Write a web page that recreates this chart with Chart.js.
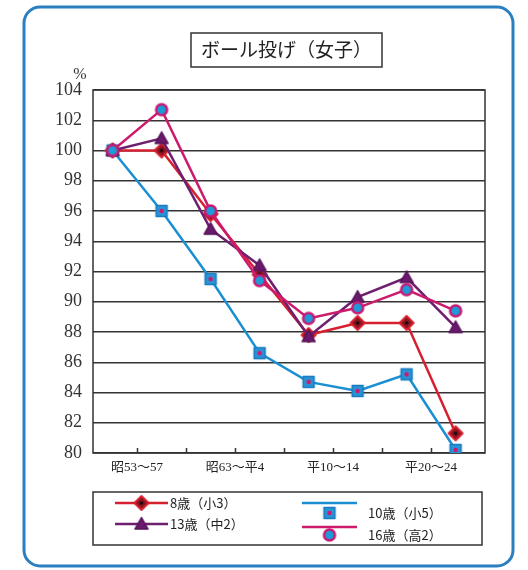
<!DOCTYPE html>
<html>
<head>
<meta charset="utf-8">
<script src="https://cdn.jsdelivr.net/npm/chart.js@4.4.1/dist/chart.umd.min.js"></script>
<style>
  html, body { margin: 0; padding: 0; background: #fff; }
  #wrap { width: 528px; height: 570px; position: relative; }
</style>
</head>
<body>
<div id="wrap"><canvas id="c" width="528" height="570"></canvas></div>
<script>
// Survey periods: eight points along the horizontal axis
const pointIndex = [0, 1, 2, 3, 4, 5, 6, 7];

// Period labels and where they sit on the axis
const periodLabels = ['昭53～57', '昭63～平4', '平10～14', '平20～24'];
const periodLabelAt = [0.5, 2.5, 4.5, 6.5];
const tickMarkAt = [0.5, 1.5, 2.5, 3.5, 4.5, 5.5, 6.5];

// Ball throw record relative to the first period (%)
const age8 = [100, 100.0, 95.8, 91.8, 87.8, 88.6, 88.6, 81.3];
const age10 = [100, 96.0, 91.5, 86.6, 84.7, 84.1, 85.2, 80.2];
const age13 = [100, 100.8, 94.8, 92.4, 87.7, 90.3, 91.6, 88.3];
const age16 = [100, 102.7, 96.0, 91.4, 88.9, 89.6, 90.8, 89.4];

const seriesNames = ['8歳（小3）', '10歳（小5）', '13歳（中2）', '16歳（高2）'];
const chartTitle = 'ボール投げ（女子）';

// Marker sprites
function makeMarker(kind) {
  const s = 18, m = s / 2;
  const c = document.createElement('canvas');
  c.width = s; c.height = s;
  const g = c.getContext('2d');
  g.lineJoin = 'round';
  if (kind === 'diamond') {
    g.beginPath();
    g.moveTo(m, m - 7); g.lineTo(m + 7, m); g.lineTo(m, m + 7); g.lineTo(m - 7, m); g.closePath();
    g.fillStyle = '#8a1522'; g.fill();
    g.strokeStyle = '#d8202e'; g.lineWidth = 2; g.stroke();
    g.beginPath(); g.arc(m, m, 1.8, 0, Math.PI * 2); g.fillStyle = '#1a0808'; g.fill();
  } else if (kind === 'square') {
    g.fillStyle = '#2a93d5'; g.fillRect(m - 5.5, m - 5.5, 11, 11);
    g.strokeStyle = '#1a7cc0'; g.lineWidth = 1.5; g.strokeRect(m - 5.5, m - 5.5, 11, 11);
    g.beginPath(); g.arc(m, m, 2.2, 0, Math.PI * 2); g.fillStyle = '#d0176e'; g.fill();
  } else if (kind === 'triangle') {
    g.beginPath();
    g.moveTo(m, m - 6.5); g.lineTo(m + 6.5, m + 5); g.lineTo(m - 6.5, m + 5); g.closePath();
    g.fillStyle = '#6a1a6c'; g.fill();
    g.strokeStyle = '#55135a'; g.lineWidth = 1.5; g.stroke();
  } else {
    g.beginPath(); g.arc(m, m, 5.5, 0, Math.PI * 2);
    g.fillStyle = '#1e9ad8'; g.fill();
    g.strokeStyle = '#c81a74'; g.lineWidth = 2.5; g.stroke();
  }
  return c;
}

const markers = {
  diamond: makeMarker('diamond'),
  square: makeMarker('square'),
  triangle: makeMarker('triangle'),
  circle: makeMarker('circle')
};

const lineColors = ['#d7202f', '#1b8fd2', '#6e1f6f', '#cc1b6c'];
const markerKinds = ['diamond', 'square', 'triangle', 'circle'];
const seriesValues = [age8, age10, age13, age16];

function toPoints(values) {
  return values.map((v, i) => ({ x: pointIndex[i], y: v }));
}

const datasets = seriesValues.map((vals, k) => ({
  label: seriesNames[k],
  data: toPoints(vals),
  borderColor: lineColors[k],
  borderWidth: 2.5,
  tension: 0,
  pointStyle: markers[markerKinds[k]],
  pointRadius: 6,
  pointHoverRadius: 6,
  order: [3, 2, 1, 0][k]
}));

// Frame, title box, inward tick marks and legend
const decorations = {
  id: 'decorations',
  beforeDatasetsDraw(chart) {
    const { ctx, chartArea: a, scales } = chart;
    ctx.save();
    ctx.strokeStyle = '#333';
    ctx.lineWidth = 1.5;
    ctx.strokeRect(a.left, a.top, a.right - a.left, a.bottom - a.top);
    tickMarkAt.forEach(v => {
      const x = Math.round(scales.x.getPixelForValue(v)) + 0.5;
      ctx.beginPath(); ctx.moveTo(x, a.bottom); ctx.lineTo(x, a.bottom - 5); ctx.stroke();
    });
    ctx.restore();
  },
  afterDraw(chart) {
    const { ctx } = chart;
    ctx.save();
    // outer rounded frame
    ctx.strokeStyle = '#2a7fc1';
    ctx.lineWidth = 3;
    ctx.beginPath();
    ctx.roundRect(24, 7, 489, 559, 16);
    ctx.stroke();

    // title box
    ctx.strokeStyle = '#333';
    ctx.lineWidth = 1.5;
    ctx.strokeRect(191, 33, 191, 34);
    ctx.fillStyle = '#222';
    ctx.font = '19px "Noto Sans CJK JP", sans-serif';
    ctx.textAlign = 'center';
    ctx.textBaseline = 'middle';
    ctx.fillText(chartTitle, 286.5, 50);

    // unit
    ctx.font = '16px "Liberation Serif", serif';
    ctx.fillStyle = '#333';
    ctx.fillText('%', 80, 75);

    // legend
    ctx.strokeStyle = '#333';
    ctx.lineWidth = 1.5;
    ctx.strokeRect(93, 492, 389, 53);
    const items = [
      { k: 0, x0: 115, x1: 168, ly: 503, my: 503, tx: 170, ty: 503 },
      { k: 2, x0: 115, x1: 168, ly: 524, my: 524, tx: 170, ty: 524 },
      { k: 1, x0: 302, x1: 357, ly: 503, my: 513, tx: 368, ty: 513 },
      { k: 3, x0: 302, x1: 357, ly: 527, my: 535, tx: 368, ty: 535 }
    ];
    ctx.font = '13px "Noto Sans CJK JP", sans-serif';
    ctx.textAlign = 'left';
    items.forEach(it => {
      ctx.strokeStyle = lineColors[it.k];
      ctx.lineWidth = 2.5;
      ctx.beginPath(); ctx.moveTo(it.x0, it.ly); ctx.lineTo(it.x1, it.ly); ctx.stroke();
      const img = markers[markerKinds[it.k]];
      ctx.drawImage(img, (it.x0 + it.x1) / 2 - img.width / 2, it.my - img.height / 2);
      ctx.fillStyle = '#222';
      ctx.fillText(seriesNames[it.k], it.tx, it.ty);
    });
    ctx.restore();
  }
};

new Chart(document.getElementById('c'), {
  type: 'line',
  data: { datasets },
  options: {
    responsive: false,
    animation: false,
    devicePixelRatio: 1,
    layout: { padding: { left: 0, right: 43, top: 90, bottom: 0 } },
    plugins: { legend: { display: false }, tooltip: { enabled: false } },
    scales: {
      x: {
        type: 'linear',
        min: -0.4,
        max: 7.6,
        afterFit(scale) { scale.height = 117; },
        afterBuildTicks(scale) { scale.ticks = tickMarkAt.map(v => ({ value: v })); },
        grid: { display: false, drawTicks: false },
        border: { display: false },
        ticks: {
          autoSkip: false,
          maxRotation: 0,
          padding: 7,
          color: '#222',
          font: { family: '"Liberation Serif", "Noto Sans CJK JP", serif', size: 13 },
          callback(v) {
            const i = periodLabelAt.indexOf(v);
            return i >= 0 ? periodLabels[i] : '';
          }
        }
      },
      y: {
        min: 80,
        max: 104,
        afterFit(scale) { scale.width = 93; },
        grid: { color: '#333', lineWidth: 1.5, drawTicks: false },
        border: { display: false },
        ticks: {
          stepSize: 2,
          padding: 11,
          color: '#333',
          font: { family: '"Liberation Serif", serif', size: 18 }
        }
      }
    }
  },
  plugins: [decorations]
});
</script>
</body>
</html>
